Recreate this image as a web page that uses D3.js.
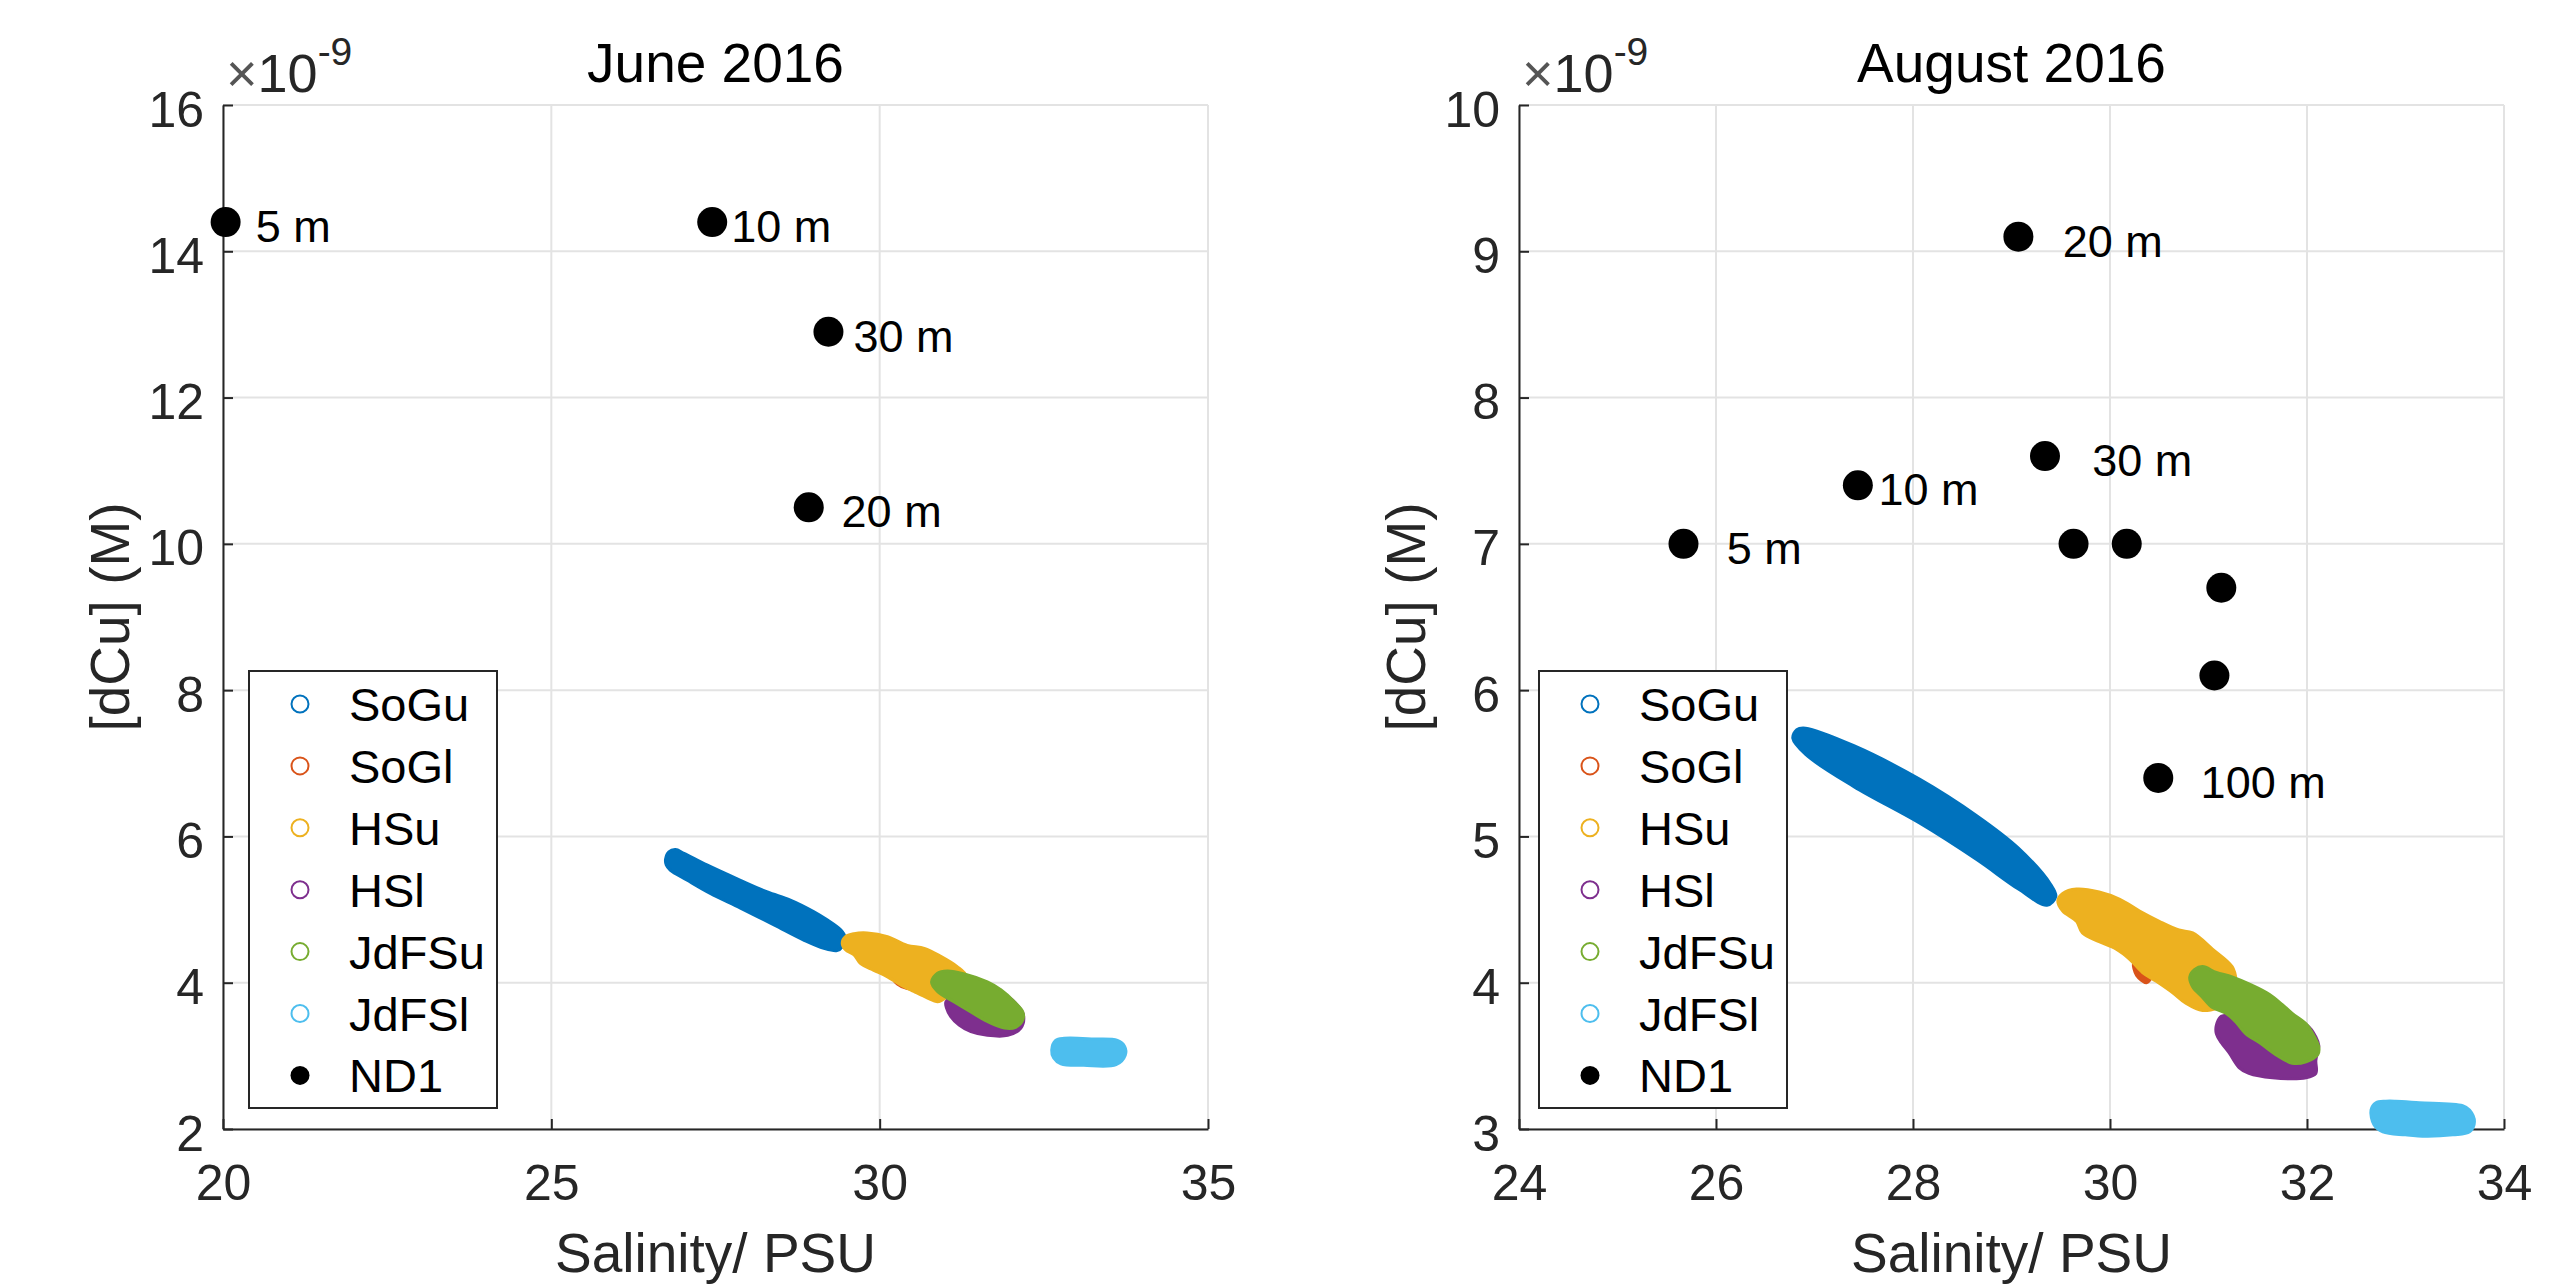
<!DOCTYPE html>
<html>
<head>
<meta charset="utf-8">
<script src="https://cdn.jsdelivr.net/npm/d3@7"></script>
<style>
  body { margin: 0; background: #fff; }
  text { font-family: "Liberation Sans", Arial, Helvetica, sans-serif; }
</style>
</head>
<body>
<svg id="chart" width="2567" height="1284"></svg>
<script>
// dCu values are in units of 1e-9 M (the axis carries the x10^-9 factor)
const regionNames = ["SoGu", "SoGl", "HSu", "HSl", "JdFSu", "JdFSl"];
const regionColors = ["#0072BD", "#D95319", "#EDB120", "#7E2F8E", "#77AC30", "#4DBEEE"];

// ---- June 2016 ----
// outlines of the model point clouds, [salinity, dCu]
const juneSoGu = [[26.74,5.69],[26.79,5.79],[26.89,5.82],[27.02,5.77],[27.37,5.61],[27.88,5.40],[28.29,5.24],[28.64,5.13],[29.00,4.97],[29.20,4.86],[29.41,4.72],[29.47,4.63],[29.43,4.49],[29.35,4.44],[29.15,4.47],[28.85,4.58],[28.39,4.79],[27.88,5.02],[27.42,5.22],[27.07,5.40],[26.81,5.54],[26.75,5.61]];
const juneSoGl = [[30.22,4.04],[30.37,4.08],[30.57,3.94],[30.42,3.92],[30.27,3.98]];
const juneHSu = [[29.43,4.54],[29.48,4.63],[29.61,4.67],[29.81,4.68],[30.12,4.63],[30.42,4.51],[30.68,4.47],[30.93,4.36],[31.18,4.22],[31.31,4.10],[31.23,3.99],[31.03,3.81],[30.88,3.74],[30.73,3.79],[30.52,3.88],[30.32,3.97],[30.12,4.08],[29.91,4.17],[29.71,4.26],[29.61,4.38],[29.48,4.45]];
const juneHSl = [[31.01,3.74],[31.24,3.85],[31.69,3.90],[31.95,3.81],[32.10,3.69],[32.19,3.56],[32.15,3.38],[31.95,3.28],[31.64,3.28],[31.39,3.33],[31.21,3.42],[31.08,3.54],[31.02,3.65]];
const juneJdFSu = [[30.79,4.01],[30.88,4.13],[31.03,4.16],[31.29,4.12],[31.64,4.01],[31.85,3.90],[32.05,3.74],[32.18,3.60],[32.18,3.49],[32.07,3.39],[31.90,3.38],[31.64,3.47],[31.39,3.60],[31.13,3.74],[30.88,3.88]];
const juneJdFSl = [[32.62,3.08],[32.68,3.21],[32.81,3.24],[33.27,3.23],[33.62,3.21],[33.73,3.13],[33.74,3.01],[33.60,2.88],[33.11,2.87],[32.76,2.89],[32.65,2.97]];
// ND1 station samples
const juneNd1Sal = [20.04, 27.45, 29.22, 28.92];
const juneNd1Cu = [14.4, 14.4, 12.9, 10.5];
const juneNd1Depth = ["5 m", "10 m", "30 m", "20 m"];
const juneLabelSal = [20.50, 27.74, 29.60, 29.42];
const juneXTicks = [20, 25, 30, 35];
const juneYTicks = [2, 4, 6, 8, 10, 12, 14, 16];

// ---- August 2016 ----
const augSoGu = [[26.82,5.73],[26.91,5.74],[27.40,5.62],[28.07,5.39],[28.65,5.14],[29.07,4.92],[29.40,4.67],[29.45,4.59],[29.36,4.53],[29.07,4.64],[28.65,4.84],[28.07,5.09],[27.40,5.34],[26.91,5.56],[26.78,5.67]];
const augSoGl = [[30.24,4.13],[30.31,4.10],[30.41,4.03],[30.37,4.00],[30.27,4.05]];
const augHSu = [[29.47,4.56],[29.52,4.61],[29.66,4.64],[29.89,4.62],[30.10,4.57],[30.30,4.49],[30.50,4.42],[30.70,4.36],[30.84,4.34],[31.04,4.23],[31.24,4.11],[31.28,4.02],[31.27,3.88],[31.11,3.83],[30.94,3.81],[30.77,3.86],[30.64,3.93],[30.47,4.01],[30.33,4.07],[30.20,4.16],[30.06,4.23],[29.89,4.28],[29.72,4.34],[29.66,4.42],[29.52,4.49]];
const augHSl = [[31.08,3.71],[31.13,3.77],[31.25,3.78],[31.65,3.75],[31.89,3.73],[32.00,3.71],[32.09,3.63],[32.12,3.57],[32.09,3.47],[32.09,3.38],[31.99,3.35],[31.65,3.35],[31.41,3.38],[31.31,3.42],[31.21,3.52],[31.13,3.59],[31.08,3.65]];
const augJdFSu = [[30.81,4.04],[30.86,4.09],[30.94,4.11],[31.08,4.07],[31.24,4.04],[31.45,3.98],[31.62,3.92],[31.75,3.85],[31.85,3.79],[31.99,3.72],[32.06,3.65],[32.12,3.56],[32.11,3.51],[31.99,3.46],[31.85,3.45],[31.68,3.51],[31.52,3.59],[31.38,3.65],[31.28,3.73],[31.18,3.79],[31.04,3.83],[30.94,3.90],[30.84,3.97]];
const augJdFSl = [[32.65,3.13],[32.70,3.18],[32.80,3.19],[32.90,3.19],[33.14,3.18],[33.58,3.16],[33.65,3.13],[33.70,3.05],[33.65,2.98],[33.48,2.96],[33.21,2.95],[33.00,2.96],[32.77,2.98],[32.68,3.03]];
const augNd1Sal = [25.67, 27.44, 29.07, 29.34, 29.63, 30.17, 31.13, 31.06, 30.49];
const augNd1Cu = [7.0, 7.4, 9.1, 7.6, 7.0, 7.0, 6.7, 6.1, 5.4];
const augNd1Depth = ["5 m", "10 m", "20 m", "30 m", "", "", "", "", "100 m"];
const augLabelSal = [26.11, 27.65, 29.52, 29.82, null, null, null, null, 30.92];
const augXTicks = [24, 26, 28, 30, 32, 34];
const augYTicks = [3, 4, 5, 6, 7, 8, 9, 10];

// layout
const plotTop = 105, plotBottom = 1129, plotW = 985;
const axisColor = "#262626", gridColor = "#e3e3e3";
const font = "\"Liberation Sans\", Arial, Helvetica, sans-serif";

const svg = d3.select("#chart");
svg.append("rect").attr("width", 2567).attr("height", 1284).attr("fill", "#fff");

function drawPanel(p) {
	const x = d3.scaleLinear().domain(p.xDomain).range([p.left, p.left + plotW]);
	const y = d3.scaleLinear().domain(p.yDomain).range([plotBottom, plotTop]);
	const g = svg.append("g");

	// grid lines
	g.append("g").selectAll("line").data(p.xTicks).join("line")
		.attr("x1", d => x(d)).attr("x2", d => x(d))
		.attr("y1", plotTop).attr("y2", plotBottom)
		.attr("stroke", gridColor).attr("stroke-width", 2);
	g.append("g").selectAll("line").data(p.yTicks).join("line")
		.attr("x1", p.left).attr("x2", p.left + plotW)
		.attr("y1", d => y(d)).attr("y2", d => y(d))
		.attr("stroke", gridColor).attr("stroke-width", 2);

	// axes, ticks pointing inwards
	const xAxis = g.append("g")
		.attr("transform", `translate(0,${plotBottom})`)
		.call(d3.axisBottom(x).tickValues(p.xTicks).tickFormat(d3.format("d"))
			.tickSize(-10).tickSizeOuter(0).tickPadding(35));
	const yAxis = g.append("g")
		.attr("transform", `translate(${p.left},0)`)
		.call(d3.axisLeft(y).tickValues(p.yTicks).tickFormat(d3.format("d"))
			.tickSize(-10).tickSizeOuter(0).tickPadding(19));
	[xAxis, yAxis].forEach(a => {
		a.attr("font-family", font).attr("font-size", 50);
		a.select(".domain").attr("stroke", axisColor).attr("stroke-width", 2);
		a.selectAll(".tick line").attr("stroke", axisColor).attr("stroke-width", 2);
		a.selectAll(".tick text").attr("fill", axisColor);
	});
	yAxis.selectAll(".tick text").attr("dy", "0.42em");

	// model clouds
	const outline = d3.line()
		.x(d => x(d[0])).y(d => y(d[1]))
		.curve(d3.curveCatmullRomClosed.alpha(0.5));
	g.append("g").selectAll("path").data(p.clouds).join("path")
		.attr("d", d => outline(d))
		.attr("fill", (d, i) => regionColors[i])
		.attr("stroke", (d, i) => regionColors[i])
		.attr("stroke-width", 3)
		.attr("stroke-linejoin", "round");

	// ND1 samples
	g.append("g").selectAll("circle").data(p.nd1Sal).join("circle")
		.attr("cx", d => x(d))
		.attr("cy", (d, i) => y(p.nd1Cu[i]))
		.attr("r", 15)
		.attr("fill", "#000");
	const labelIdx = d3.range(p.depth.length).filter(i => p.depth[i] !== "");
	g.append("g").selectAll("text").data(labelIdx).join("text")
		.attr("x", i => x(p.labelSal[i]))
		.attr("y", i => y(p.nd1Cu[i]) + 20)
		.attr("font-size", 45)
		.attr("fill", "#000")
		.text(i => p.depth[i]);

	// title, labels, exponent
	g.append("text")
		.attr("x", p.left + plotW / 2).attr("y", 82)
		.attr("text-anchor", "middle").attr("font-size", 55).attr("fill", "#000")
		.text(p.title);
	g.append("text")
		.attr("x", p.left + plotW / 2).attr("y", 1272)
		.attr("text-anchor", "middle").attr("font-size", 55).attr("fill", axisColor)
		.text("Salinity/ PSU");
	g.append("text")
		.attr("transform", `translate(${p.left - 94},${(plotTop + plotBottom) / 2}) rotate(-90)`)
		.attr("text-anchor", "middle").attr("font-size", 55).attr("fill", axisColor)
		.text("[dCu] (M)");
	const expo = g.append("text")
		.attr("x", p.left + 3).attr("y", 92)
		.attr("font-size", 54).attr("fill", axisColor);
	expo.append("tspan").attr("fill", "#555").text("\u00d7");
	expo.append("tspan").text("10");
	expo.append("tspan").attr("font-size", 39).attr("dy", -27).text("-9");

	// legend
	const leg = g.append("g").attr("transform", `translate(${p.left + p.legendDx},671)`);
	leg.append("rect").attr("width", 248).attr("height", 437)
		.attr("fill", "#fff").attr("stroke", axisColor).attr("stroke-width", 2);
	const entries = regionNames.concat(["ND1"]);
	const row = leg.selectAll("g").data(entries).join("g")
		.attr("transform", (d, i) => `translate(0,${33 + i * 61.9})`);
	row.append("circle")
		.attr("cx", 51).attr("cy", 0)
		.attr("r", (d, i) => i < regionNames.length ? 8.5 : 9.5)
		.attr("fill", (d, i) => i < regionNames.length ? "none" : "#000")
		.attr("stroke", (d, i) => i < regionNames.length ? regionColors[i] : "none")
		.attr("stroke-width", 2);
	row.append("text")
		.attr("x", 100).attr("y", 17)
		.attr("font-size", 47).attr("fill", "#000")
		.text(d => d);
}

drawPanel({
	title: "June 2016", left: 223, legendDx: 26,
	xDomain: [20, 35], yDomain: [2, 16],
	xTicks: juneXTicks, yTicks: juneYTicks,
	clouds: [juneSoGu, juneSoGl, juneHSu, juneHSl, juneJdFSu, juneJdFSl],
	nd1Sal: juneNd1Sal, nd1Cu: juneNd1Cu, depth: juneNd1Depth, labelSal: juneLabelSal
});
drawPanel({
	title: "August 2016", left: 1519, legendDx: 20,
	xDomain: [24, 34], yDomain: [3, 10],
	xTicks: augXTicks, yTicks: augYTicks,
	clouds: [augSoGu, augSoGl, augHSu, augHSl, augJdFSu, augJdFSl],
	nd1Sal: augNd1Sal, nd1Cu: augNd1Cu, depth: augNd1Depth, labelSal: augLabelSal
});
</script>
</body>
</html>
